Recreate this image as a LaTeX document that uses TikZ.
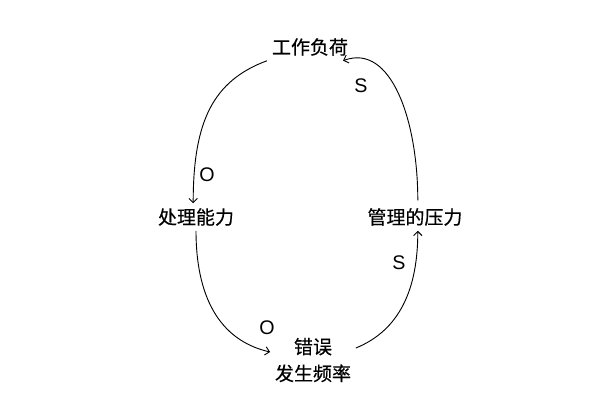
\documentclass[tikz,border=0pt]{standalone}
\usepackage{fontspec}
\setmainfont{Liberation Sans}
\newfontfamily\cjk[FakeBold=0.4]{Noto Sans CJK SC}
\usetikzlibrary{arrows.meta}
\begin{document}
\begin{tikzpicture}[
        >={Straight Barb[length=3pt,width=6pt]},
        factor/.style={font=\cjk\fontsize{13.5}{19}\selectfont, align=center},
        sign/.style={font=\fontsize{14}{16}\selectfont},
        link/.style={->, line width=0.65pt}
    ]
                \useasboundingbox (0,0) rectangle (15,10.175);

                \node[factor] (load) at (7.75,9.0) {工作负荷};
                \node[factor] (cap) at (4.9,4.75) {处理能力};
                \node[factor] (press) at (10.375,4.75) {管理的压力};
                \node[factor] (err) at (7.825,1.175) {错误\\发生频率};

                \draw[link] (load.south west) .. controls +(-1.35,-0.5) and +(0,2.05) .. ([xshift=-2pt]cap.north);
                \draw[link] (cap.south) .. controls +(0,-1.6) and +(-1.3,0.3) .. ([yshift=0.2cm]err.west);
                \draw[link] ([yshift=0.3cm]err.east) .. controls +(1.1,0.45) and +(0,-1.45) .. ([xshift=2pt]press.south);
                \draw[link] ([xshift=2pt,yshift=2pt]press.north) .. controls +(0,2) and +(1.2,0.45) .. ([xshift=-7pt]load.south east);

                \node[sign] (o1) at (5.175,5.8) {O};
                \node[sign] (o2) at (6.675,1.975) {O};
                \node[sign] (s1) at (9.025,8.025) {S};
                \node[sign] (s2) at (9.975,3.6) {S};
            \end{tikzpicture}
\end{document}
